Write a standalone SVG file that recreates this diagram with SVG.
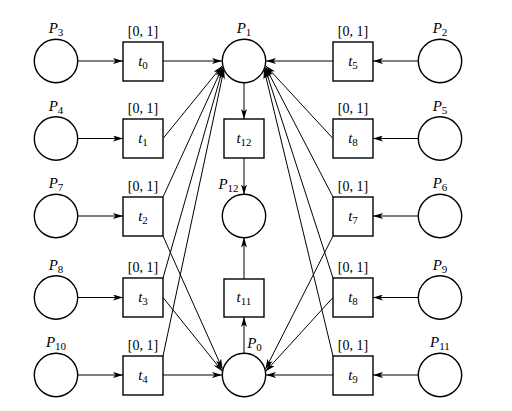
<svg xmlns="http://www.w3.org/2000/svg" width="512" height="411" viewBox="0 0 512 411">
<style>
.pl{fill:#fff;stroke:#000;stroke-width:1.4}
.tr{fill:#fff;stroke:#000;stroke-width:1.4}
.arc{fill:none;stroke:#000;stroke-width:1;marker-end:url(#ah)}
text{font-family:"Liberation Serif","Times New Roman",serif;font-size:15px;fill:#000;text-anchor:middle}
.it{font-style:italic}
.sub{font-size:11px}
.iv{font-size:14px}
</style>
<defs>
<marker id="ah" markerUnits="userSpaceOnUse" markerWidth="10" markerHeight="6" refX="10" refY="3" orient="auto" viewBox="0 0 10 6">
<path d="M0,0 L10,3 L0,6 L2.5,3 z" fill="#000"/>
</marker>
</defs>
<rect width="512" height="411" fill="#fff"/>
<g id="connectors">
<!-- left inputs -->
<line class="arc" x1="77.5" y1="61" x2="123" y2="61"/>
<line class="arc" x1="77.5" y1="138.5" x2="123" y2="138.5"/>
<line class="arc" x1="77.5" y1="216" x2="123" y2="216"/>
<line class="arc" x1="77.5" y1="297.5" x2="123" y2="297.5"/>
<line class="arc" x1="77.5" y1="375" x2="123" y2="375"/>
<!-- right inputs -->
<line class="arc" x1="418.5" y1="61" x2="373" y2="61"/>
<line class="arc" x1="418.5" y1="138.5" x2="373" y2="138.5"/>
<line class="arc" x1="418.5" y1="216" x2="373" y2="216"/>
<line class="arc" x1="418.5" y1="297.5" x2="373" y2="297.5"/>
<line class="arc" x1="418.5" y1="375" x2="373" y2="375"/>
<!-- to P1 -->
<line class="arc" x1="163" y1="61" x2="222" y2="61"/>
<line class="arc" x1="163" y1="138.5" x2="222" y2="66"/>
<line class="arc" x1="163" y1="197" x2="222.5" y2="67"/>
<line class="arc" x1="163" y1="278" x2="223" y2="68"/>
<line class="arc" x1="163" y1="356" x2="224" y2="69"/>
<line class="arc" x1="333" y1="61" x2="266" y2="61"/>
<line class="arc" x1="333" y1="138.5" x2="266" y2="66"/>
<line class="arc" x1="333" y1="197" x2="265.5" y2="67"/>
<line class="arc" x1="333" y1="278" x2="265" y2="68"/>
<line class="arc" x1="333" y1="356" x2="264" y2="69"/>
<!-- to P0 -->
<line class="arc" x1="163" y1="236" x2="222.5" y2="369"/>
<line class="arc" x1="163" y1="297.5" x2="222.5" y2="371.5"/>
<line class="arc" x1="163" y1="375" x2="222" y2="375"/>
<line class="arc" x1="333" y1="236" x2="265.5" y2="369"/>
<line class="arc" x1="333" y1="297.5" x2="265.5" y2="371.5"/>
<line class="arc" x1="333" y1="375" x2="266" y2="375"/>
<!-- middle column -->
<line class="arc" x1="244" y1="83" x2="244" y2="119"/>
<line class="arc" x1="244" y1="158" x2="244" y2="194.5"/>
<line class="arc" x1="244" y1="353.5" x2="244" y2="317"/>
<line class="arc" x1="244" y1="279" x2="244" y2="237.5"/>
</g>
<!-- places left -->
<g id="P3"><circle class="pl" cx="56" cy="61" r="21.7"/><text x="56" y="33"><tspan class="it">P</tspan><tspan class="sub" dy="3">3</tspan></text></g>
<g id="P4"><circle class="pl" cx="56" cy="138.5" r="21.7"/><text x="56" y="110.5"><tspan class="it">P</tspan><tspan class="sub" dy="3">4</tspan></text></g>
<g id="P7"><circle class="pl" cx="56" cy="216" r="21.7"/><text x="56" y="188"><tspan class="it">P</tspan><tspan class="sub" dy="3">7</tspan></text></g>
<g id="P8"><circle class="pl" cx="56" cy="297.5" r="21.7"/><text x="56" y="269.5"><tspan class="it">P</tspan><tspan class="sub" dy="3">8</tspan></text></g>
<g id="P10"><circle class="pl" cx="56" cy="375" r="21.7"/><text x="56" y="347"><tspan class="it">P</tspan><tspan class="sub" dy="3">10</tspan></text></g>
<!-- places right -->
<g id="P2"><circle class="pl" cx="440" cy="61" r="21.7"/><text x="440" y="33"><tspan class="it">P</tspan><tspan class="sub" dy="3">2</tspan></text></g>
<g id="P5"><circle class="pl" cx="440" cy="138.5" r="21.7"/><text x="440" y="110.5"><tspan class="it">P</tspan><tspan class="sub" dy="3">5</tspan></text></g>
<g id="P6"><circle class="pl" cx="440" cy="216" r="21.7"/><text x="440" y="188"><tspan class="it">P</tspan><tspan class="sub" dy="3">6</tspan></text></g>
<g id="P9"><circle class="pl" cx="440" cy="297.5" r="21.7"/><text x="440" y="269.5"><tspan class="it">P</tspan><tspan class="sub" dy="3">9</tspan></text></g>
<g id="P11"><circle class="pl" cx="440" cy="375" r="21.7"/><text x="440" y="347"><tspan class="it">P</tspan><tspan class="sub" dy="3">11</tspan></text></g>
<!-- middle places -->
<g id="P1"><circle class="pl" cx="244" cy="61" r="21.7"/><text x="244" y="33"><tspan class="it">P</tspan><tspan class="sub" dy="3">1</tspan></text></g>
<g id="P12"><circle class="pl" cx="244" cy="216" r="21.7"/><text x="228.5" y="189"><tspan class="it">P</tspan><tspan class="sub" dy="3">12</tspan></text></g>
<g id="P0"><circle class="pl" cx="244" cy="375" r="21.7"/><text x="254.5" y="348"><tspan class="it">P</tspan><tspan class="sub" dy="3">0</tspan></text></g>
<!-- transitions left -->
<g id="t0"><rect class="tr" x="123" y="42" width="40" height="39"/><text class="iv" x="143" y="36">[0, 1]</text><text x="143" y="65.5"><tspan class="it">t</tspan><tspan class="sub" dy="3">0</tspan></text></g>
<g id="t1"><rect class="tr" x="123" y="119" width="40" height="39"/><text class="iv" x="143" y="113">[0, 1]</text><text x="143" y="143"><tspan class="it">t</tspan><tspan class="sub" dy="3">1</tspan></text></g>
<g id="t2"><rect class="tr" x="123" y="197" width="40" height="39"/><text class="iv" x="143" y="191">[0, 1]</text><text x="143" y="220.5"><tspan class="it">t</tspan><tspan class="sub" dy="3">2</tspan></text></g>
<g id="t3"><rect class="tr" x="123" y="278" width="40" height="39"/><text class="iv" x="143" y="272">[0, 1]</text><text x="143" y="302"><tspan class="it">t</tspan><tspan class="sub" dy="3">3</tspan></text></g>
<g id="t4"><rect class="tr" x="123" y="356" width="40" height="39"/><text class="iv" x="143" y="350">[0, 1]</text><text x="143" y="379.5"><tspan class="it">t</tspan><tspan class="sub" dy="3">4</tspan></text></g>
<!-- transitions right -->
<g id="t5"><rect class="tr" x="333" y="42" width="40" height="39"/><text class="iv" x="353" y="36">[0, 1]</text><text x="353" y="65.5"><tspan class="it">t</tspan><tspan class="sub" dy="3">5</tspan></text></g>
<g id="t8a"><rect class="tr" x="333" y="119" width="40" height="39"/><text class="iv" x="353" y="113">[0, 1]</text><text x="353" y="143"><tspan class="it">t</tspan><tspan class="sub" dy="3">8</tspan></text></g>
<g id="t7"><rect class="tr" x="333" y="197" width="40" height="39"/><text class="iv" x="353" y="191">[0, 1]</text><text x="353" y="220.5"><tspan class="it">t</tspan><tspan class="sub" dy="3">7</tspan></text></g>
<g id="t8b"><rect class="tr" x="333" y="278" width="40" height="39"/><text class="iv" x="353" y="272">[0, 1]</text><text x="353" y="302"><tspan class="it">t</tspan><tspan class="sub" dy="3">8</tspan></text></g>
<g id="t9"><rect class="tr" x="333" y="356" width="40" height="39"/><text class="iv" x="353" y="350">[0, 1]</text><text x="353" y="379.5"><tspan class="it">t</tspan><tspan class="sub" dy="3">9</tspan></text></g>
<!-- middle transitions -->
<g id="t12"><rect class="tr" x="224" y="119" width="40" height="39"/><text x="244" y="143"><tspan class="it">t</tspan><tspan class="sub" dy="3">12</tspan></text></g>
<g id="t11"><rect class="tr" x="224" y="279" width="40" height="38"/><text x="244" y="302"><tspan class="it">t</tspan><tspan class="sub" dy="3">11</tspan></text></g>
</svg>
